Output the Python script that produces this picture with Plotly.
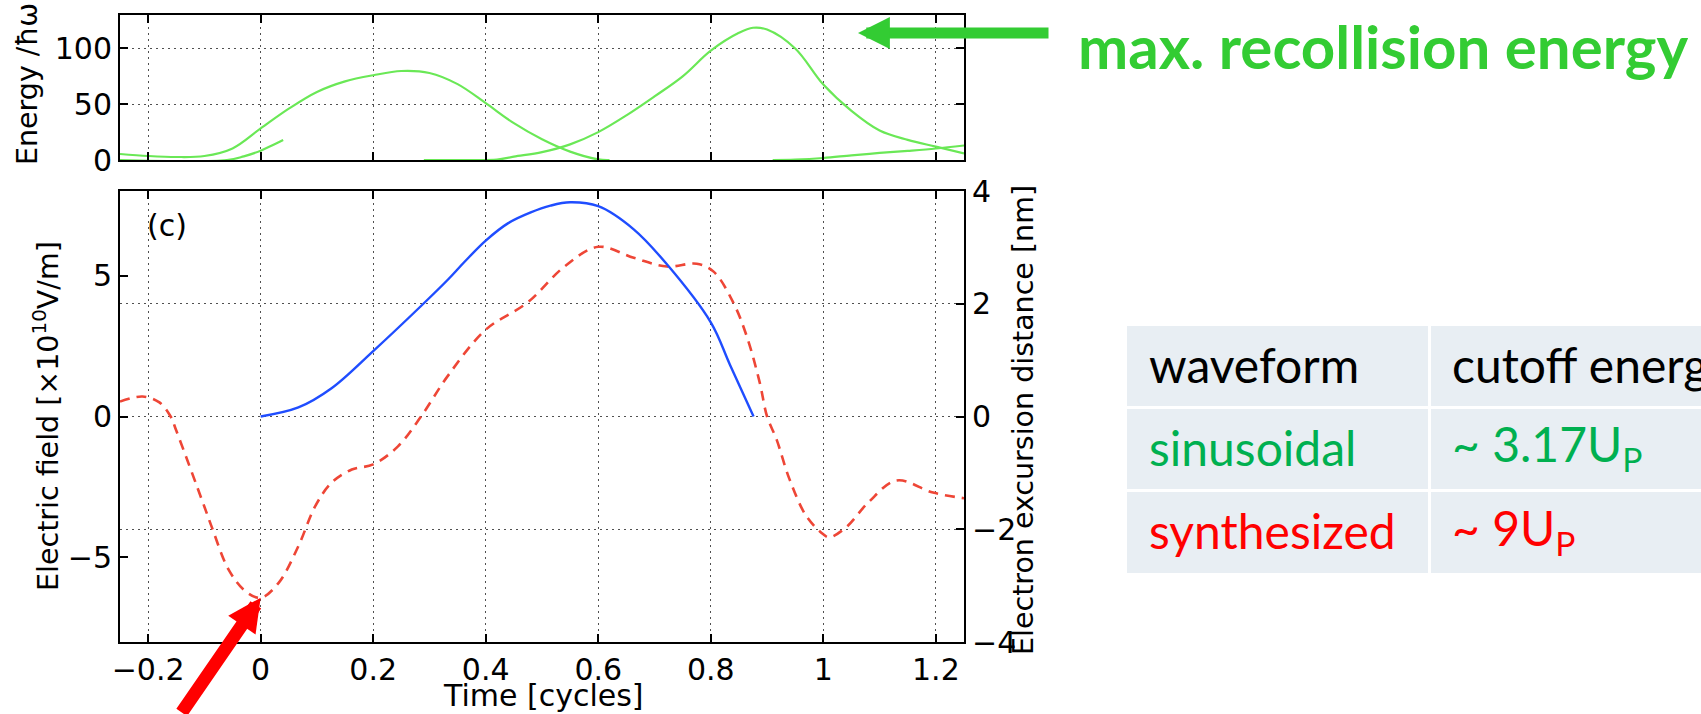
import plotly.graph_objects as go

W, H = 1701, 714

# ---- top panel: recollision energy branches (time in cycles, energy in units of hbar*omega)
branch1_t = [-0.25, -0.2, -0.15, -0.1, -0.05, 0.0, 0.05, 0.1, 0.15, 0.2, 0.25, 0.3, 0.35,
             0.4, 0.45, 0.5, 0.55, 0.6, 0.62]
branch1_e = [5.4, 3.6, 2.7, 3.6, 10.4, 28.3, 46, 61, 70.5, 76, 79.8, 78, 68,
             51, 33, 18.6, 7.5, 0.5, 0]

branch2_t = [-0.25, -0.06, -0.03, 0.0, 0.02, 0.04]
branch2_e = [0, 0, 3.3, 8.3, 13, 18]

branch3_t = [0.29, 0.35, 0.42, 0.45, 0.5, 0.55, 0.6, 0.65, 0.7, 0.75, 0.8, 0.85, 0.875,
             0.9, 0.95, 1.0, 1.05, 1.1, 1.15, 1.2, 1.25]
branch3_e = [0, 0, 0.3, 3, 7, 14, 25, 40, 57, 75, 98, 114, 118.6,
             117, 100, 67.6, 44, 26.4, 18, 12, 6]

branch4_t = [0.91, 0.95, 1.0, 1.05, 1.1, 1.15, 1.2, 1.25]
branch4_e = [0, 0.4, 1.8, 4.2, 6.3, 8.2, 10.3, 13]

# ---- bottom panel: synthesized electric field (x1e10 V/m)
field_t = [-0.25, -0.21, -0.18, -0.16, -0.15, -0.1, -0.086, -0.057, -0.027, 0.0, 0.032,
           0.067, 0.097, 0.126, 0.162, 0.2, 0.244, 0.285, 0.333, 0.4, 0.474, 0.54, 0.6,
           0.663, 0.722, 0.775, 0.805, 0.84, 0.864, 0.887, 0.9, 0.917, 0.94, 0.97, 1.0,
           1.01, 1.04, 1.08, 1.13, 1.195, 1.25]
field_v = [0.53, 0.71, 0.5, 0.0, -0.5, -3.2, -3.97, -5.43, -6.2, -6.43, -5.9,
           -4.6, -3.18, -2.35, -1.88, -1.7, -1.06, 0.0, 1.45, 3.08, 4.04, 5.32, 6.02,
           5.63, 5.32, 5.42, 5.14, 4.04, 2.84, 1.2, 0.0, -0.82, -2.23, -3.54, -4.18,
           -4.29, -3.94, -3.05, -2.27, -2.7, -2.9]

# ---- bottom panel: electron excursion distance (nm)
excursion_t = [0.0, 0.067, 0.126, 0.2, 0.285, 0.333, 0.362, 0.4, 0.44, 0.48, 0.515, 0.55,
               0.6, 0.663, 0.722, 0.8, 0.834, 0.876]
excursion_d = [0.0, 0.16, 0.5, 1.16, 1.96, 2.43, 2.74, 3.12, 3.43, 3.62, 3.74, 3.8,
               3.73, 3.32, 2.7, 1.67, 0.92, 0.0]

time_ticks = [-0.2, 0, 0.2, 0.4, 0.6, 0.8, 1.0, 1.2]
energy_ticks = [0, 50, 100]
field_ticks = [-5, 0, 5]
distance_ticks = [-4, -2, 0, 2, 4]

table_rows = [["waveform", "cutoff energy"],
              ["sinusoidal", "~ 3.17U<sub>P</sub>"],
              ["synthesized", "~ 9U<sub>P</sub>"]]
table_colors = ["#000000", "#00B050", "#FF0000"]

GREEN_LINE = "#6ae856"
BLUE = "#1f4dff"
RED = "#ee4636"
ACCENT_GREEN = "#33CC33"
TICK_FONT = dict(family="DejaVu Sans", size=30, color="black")
TITLE_FONT = dict(family="DejaVu Sans", size=28.5, color="black")
GRID = dict(showgrid=True, gridcolor="#505050", gridwidth=1, griddash="2px,4px")


def px(xp):
    return xp / W


def py(yp):
    return 1 - yp / H


fig = go.Figure()

for t, e in [(branch1_t, branch1_e), (branch2_t, branch2_e),
             (branch3_t, branch3_e), (branch4_t, branch4_e)]:
    fig.add_trace(go.Scatter(x=t, y=e, xaxis="x", yaxis="y", mode="lines",
                             line=dict(color=GREEN_LINE, width=2.2, shape="spline",
                                       smoothing=1.0),
                             showlegend=False, hoverinfo="skip"))

fig.add_trace(go.Scatter(x=field_t, y=field_v, xaxis="x2", yaxis="y2", mode="lines",
                         line=dict(color=RED, width=2.6, dash="10px,7px", shape="spline",
                                   smoothing=1.0),
                         showlegend=False, hoverinfo="skip"))
fig.add_trace(go.Scatter(x=excursion_t, y=excursion_d, xaxis="x2", yaxis="y3", mode="lines",
                         line=dict(color=BLUE, width=2.4, shape="spline", smoothing=1.0),
                         showlegend=False, hoverinfo="skip"))

x_dom = [px(120), px(964)]
axis_common = dict(showline=True, linewidth=2, linecolor="black", ticks="inside",
                   ticklen=8, tickwidth=2, tickcolor="black", zeroline=False,
                   tickfont=TICK_FONT, automargin=False)

fig.update_layout(
    width=W, height=H,
    margin=dict(l=0, r=0, t=0, b=0, pad=0, autoexpand=False),
    paper_bgcolor="white", plot_bgcolor="white",
    showlegend=False,
    xaxis=dict(domain=x_dom, range=[-0.25, 1.25], anchor="y", tickvals=time_ticks,
               showticklabels=False, mirror="ticks", **GRID, **axis_common),
    yaxis=dict(domain=[py(160), py(15)], range=[0, 130], anchor="x", tickvals=energy_ticks,
               mirror="ticks", **GRID, **axis_common),
    xaxis2=dict(domain=x_dom, range=[-0.25, 1.25], anchor="y2", tickvals=time_ticks,
                mirror="ticks", **GRID, **axis_common),
    yaxis2=dict(domain=[py(642), py(191)], range=[-8, 8], anchor="x2",
                tickvals=field_ticks, showgrid=False, **axis_common),
    yaxis3=dict(overlaying="y2", side="right", anchor="x2", range=[-4, 4],
                tickvals=distance_ticks, **GRID, **axis_common),
)

annotations = [
    dict(text="Energy /ħω", x=px(27), y=py(84), textangle=-90, font=TITLE_FONT),
    dict(text="Electric field [×10<sup>10</sup>V/m]", x=px(46), y=py(416), textangle=-90,
         font=TITLE_FONT),
    dict(text="Electron excursion distance [nm]", x=px(1023), y=py(420), textangle=-90,
         font=TITLE_FONT),
    dict(text="Time [cycles]", x=px(543), y=py(695), font=dict(TICK_FONT)),
    dict(text="(c)", x=px(167), y=py(225), font=dict(TICK_FONT)),
    dict(text="max. recollision energy", x=px(1076), y=py(46), xanchor="left",
         font=dict(family="Lato", size=60, color=ACCENT_GREEN, weight="bold")),
]
for a in annotations:
    a.setdefault("xref", "paper")
    a.setdefault("yref", "paper")
    a.setdefault("showarrow", False)
    a.setdefault("xanchor", "center")
    a.setdefault("yanchor", "middle")
fig.update_layout(annotations=annotations)

# arrow toward the recollision-energy maximum
fig.add_annotation(xref="paper", yref="paper", x=px(858), y=py(33), text="",
                   showarrow=True, ax=192, ay=0, arrowhead=2, arrowwidth=11,
                   arrowsize=0.58, arrowcolor=ACCENT_GREEN, standoff=0)
# arrow toward the field minimum at t = 0
fig.add_annotation(xref="x2", yref="y2", x=0, y=min(field_v), text="",
                   showarrow=True, ax=-80, ay=140, arrowhead=2, arrowwidth=13,
                   arrowsize=0.51, arrowcolor="#FF0000", standoff=0)

# comparison table
row_edges = [(326, 406), (409, 489), (492, 573)]
col_edges = [(1127, 1428), (1431, 1760)]
col_text_x = [1147, 1450]
for (top, bot), cells, color in zip(row_edges, table_rows, table_colors):
    for (left, right), txt, tx in zip(col_edges, cells, col_text_x):
        fig.add_shape(type="rect", xref="paper", yref="paper",
                      x0=px(left), x1=px(right), y0=py(bot), y1=py(top),
                      fillcolor="#E8EEF3", line=dict(width=0), layer="below")
        fig.add_annotation(xref="paper", yref="paper", x=px(tx), y=py((top + bot) / 2 - 2),
                           text=txt, showarrow=False, xanchor="left", yanchor="middle",
                           font=dict(family="Lato", size=48, color=color))

fig.write_html("out.html")
